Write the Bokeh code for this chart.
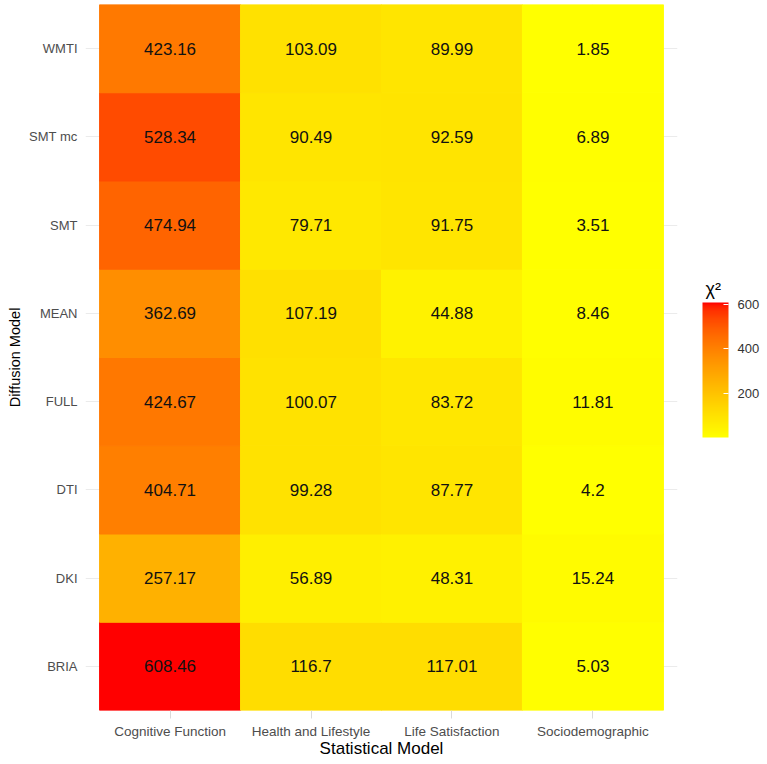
import numpy as np
from bokeh.plotting import figure
from bokeh.models import (ColumnDataSource, LinearColorMapper, ColorBar, FixedTicker,
                          Range1d, Label)
from bokeh.transform import transform
from bokeh.core.properties import value
from bokeh.embed import file_html
from bokeh.resources import INLINE

# ---- data ----
stat_models = ["Cognitive Function", "Health and Lifestyle", "Life Satisfaction", "Sociodemographic"]
diff_models = ["BRIA", "DKI", "DTI", "FULL", "MEAN", "SMT", "SMT mc", "WMTI"]
cognitive = [608.46, 257.17, 404.71, 424.67, 362.69, 474.94, 528.34, 423.16]
health = [116.7, 56.89, 99.28, 100.07, 107.19, 79.71, 90.49, 103.09]
life = [117.01, 48.31, 87.77, 83.72, 44.88, 91.75, 92.59, 89.99]
socio = [5.03, 15.24, 4.2, 11.81, 8.46, 3.51, 6.89, 1.85]
legend_ticks = [200, 400, 600]
legend_title = "χ²"

series = [cognitive, health, life, socio]

# ---- Lab gradient yellow -> red (like ggplot scale_fill_gradient) ----
def srgb_to_lab(rgb):
    c = np.array(rgb, dtype=float) / 255.0
    c = np.where(c > 0.04045, ((c + 0.055) / 1.055) ** 2.4, c / 12.92)
    M = np.array([[0.4124564, 0.3575761, 0.1804375],
                  [0.2126729, 0.7151522, 0.0721750],
                  [0.0193339, 0.1191920, 0.9503041]])
    xyz = M @ c
    wp = np.array([0.95047, 1.0, 1.08883])
    t = xyz / wp
    f = np.where(t > (6 / 29) ** 3, np.cbrt(t), t / (3 * (6 / 29) ** 2) + 4 / 29)
    return np.array([116 * f[1] - 16, 500 * (f[0] - f[1]), 200 * (f[1] - f[2])])

def lab_to_hex(lab):
    L, a, b = lab
    fy = (L + 16) / 116
    fx = fy + a / 500
    fz = fy - b / 200
    f = np.array([fx, fy, fz])
    t = np.where(f > 6 / 29, f ** 3, 3 * (6 / 29) ** 2 * (f - 4 / 29))
    xyz = t * np.array([0.95047, 1.0, 1.08883])
    Minv = np.array([[3.2404542, -1.5371385, -0.4985314],
                     [-0.9692660, 1.8760108, 0.0415560],
                     [0.0556434, -0.2040259, 1.0572252]])
    c = Minv @ xyz
    c = np.clip(c, 0, 1)
    c = np.where(c > 0.0031308, 1.055 * c ** (1 / 2.4) - 0.055, 12.92 * c)
    r, g, bb = (np.round(c * 255)).astype(int)
    return "#%02x%02x%02x" % (r, g, bb)

lab_lo = srgb_to_lab((255, 255, 0))
lab_hi = srgb_to_lab((255, 0, 0))
palette = [lab_to_hex(lab_lo + (lab_hi - lab_lo) * t) for t in np.linspace(0, 1, 256)]

all_vals = [v for s in series for v in s]
mapper = LinearColorMapper(palette=palette, low=min(all_vals), high=max(all_vals))

xs, ys, vals, labels = [], [], [], []
for i, s in enumerate(series):
    for j, v in enumerate(s):
        xs.append(i + 1)
        ys.append(j + 1)
        vals.append(v)
        labels.append(str(v))
src = ColumnDataSource(dict(x=xs, y=ys, v=vals, label=labels))

FONT = "Liberation Sans"

p = figure(frame_width=592, frame_height=706,
           x_range=Range1d(0.4, 4.6), y_range=Range1d(0.5, 8.5),
           output_backend="svg", toolbar_location=None,
           min_border_left=85, min_border_right=83, min_border_top=4, min_border_bottom=50)
p.outline_line_color = None
p.background_fill_color = "white"
p.border_fill_color = "white"

p.rect(x="x", y="y", width=1, height=1, source=src,
       fill_color=transform("v", mapper), line_color=transform("v", mapper), line_width=1)
p.text(x="x", y="y", text="label", source=src, text_align="center", text_baseline="middle",
       text_font=value(FONT), text_font_size="17px", text_color="#111111")

# axes
p.xaxis.ticker = FixedTicker(ticks=list(range(1, len(stat_models) + 1)))
p.xaxis.major_label_overrides = {i + 1: n for i, n in enumerate(stat_models)}
p.yaxis.ticker = FixedTicker(ticks=list(range(1, len(diff_models) + 1)))
p.yaxis.major_label_overrides = {i + 1: n for i, n in enumerate(diff_models)}
p.xaxis.axis_label = "Statistical Model"
p.yaxis.axis_label = "Diffusion Model"
for ax in (p.xaxis[0], p.yaxis[0]):
    ax.axis_line_color = None
    ax.minor_tick_line_color = None
    ax.major_label_text_font = FONT
    ax.major_label_text_color = "#4D4D4D"
    ax.axis_label_text_font = FONT
    ax.axis_label_text_font_style = "normal"
    ax.axis_label_text_color = "#000000"
p.xaxis.major_label_text_font_size = "13.5px"
p.yaxis.major_label_text_font_size = "13px"
p.xaxis.axis_label_text_font_size = "17px"
p.yaxis.axis_label_text_font_size = "14.5px"
p.xaxis.major_tick_line_color = "#DADADA"
p.xaxis.major_tick_in = 0
p.xaxis.major_tick_out = 8
p.xaxis.major_label_standoff = 5
p.xaxis.axis_label_standoff = -3
p.yaxis.major_tick_line_color = None
p.yaxis.major_tick_in = 0
p.yaxis.major_tick_out = 0
p.yaxis.major_label_standoff = 8
p.yaxis.axis_label_standoff = 3

p.xgrid.grid_line_color = "#EBEBEB"
p.xgrid.ticker = FixedTicker(ticks=list(range(1, len(stat_models) + 1)))
p.ygrid.grid_line_color = "#EBEBEB"
p.ygrid.ticker = FixedTicker(ticks=list(range(1, len(diff_models) + 1)))
p.xgrid.grid_line_width = 1.2
p.ygrid.grid_line_width = 1.2

cb = ColorBar(color_mapper=mapper, ticker=FixedTicker(ticks=legend_ticks),
              width=26, height=135,
              major_label_text_font=FONT, major_label_text_font_size="13px",
              major_label_text_color="#333333", label_standoff=9,
              major_tick_line_color="white", major_tick_in=5, major_tick_out=0,
              bar_line_color=None, border_line_color=None, background_fill_alpha=0,
              location=(617, 273), padding=0, margin=0)
p.add_layout(cb, "center")

title_lbl = Label(x=28, y=422, x_units="screen", y_units="screen", text=legend_title,
                  text_font=FONT, text_font_size="18px", text_color="#000000",
                  text_align="left", text_baseline="alphabetic")
p.add_layout(title_lbl, "right")

open("out.html", "w").write(file_html(p, INLINE))
